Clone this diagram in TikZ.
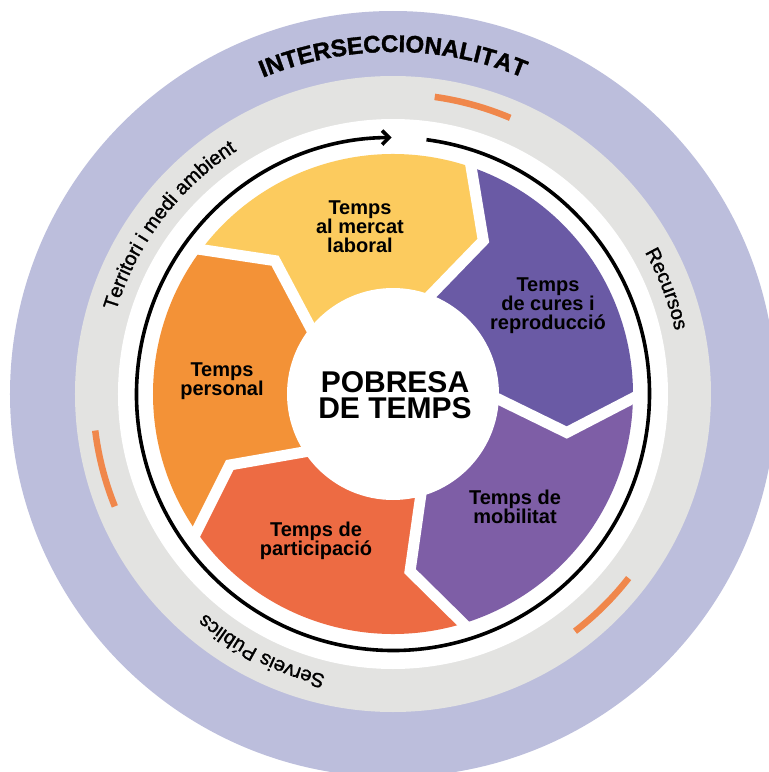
\documentclass[tikz,border=0pt]{standalone}
\usepackage{fontspec}
\setmainfont{Liberation Sans}
\usepackage{tikz}
\usetikzlibrary{arrows.meta,decorations.text}
\definecolor{lavanda}{RGB}{188,190,220}
\definecolor{gris}{RGB}{227,227,225}
\definecolor{groc}{RGB}{252,203,94}
\definecolor{taronja}{RGB}{243,146,55}
\definecolor{vermell}{RGB}{237,107,67}
\definecolor{lilafosc}{RGB}{106,90,165}
\definecolor{lila}{RGB}{126,94,166}
\definecolor{accent}{RGB}{240,135,75}
\newcommand\ringfont{\fontsize{20}{20}\selectfont\addfontfeature{FakeBold=1.3}}
\newcommand\titlefont{\bfseries\fontsize{24}{24}\selectfont\addfontfeature{FakeBold=1.5}}

\begin{document}
\begin{tikzpicture}[x=1pt,y=1pt,>={Straight Barb[length=7pt,width=14pt]},
  ringtext/.style={decorate,decoration={text along path,text align=center,text={#1}}}]
\tikzstyle{seglabel}=[align=center,font=\bfseries\fontsize{20}{19}\selectfont,text=black]
\tikzstyle{accentarc}=[draw=accent,line width=6.5pt]
\tikzstyle{gap}=[draw=white,line width=11pt]
\clip (-393,-378) rectangle (376,394);
\fill[lavanda] (0,0) circle[radius=383];
\fill[gris] (0,0) circle[radius=318];
\fill[white] (0,0) circle[radius=275];
\draw[accentarc] (82:300) arc[start angle=82,end angle=67,radius=300];
\draw[accentarc] (187:300) arc[start angle=187,end angle=202,radius=300];
\draw[accentarc] (-38:299) arc[start angle=-38,end angle=-52.5,radius=299];
\draw[line width=3.6pt,->] (82.5:256.5) arc[start angle=82.5,end angle=-269.7,radius=256.5];
\foreach \a/\c in {216/taronja,144/groc,72/lilafosc,0/lila,-72/vermell}
  \fill[\c] (\a:240) arc[start angle=\a,end angle=\a-72,radius=240]
    -- ({\a-84.5}:178) -- ({\a-72}:100) arc[start angle=\a-72,end angle=\a,radius=100]
    -- ({\a-12.5}:178) -- cycle;
\foreach \a in {144,72,0,-72,-144}
  \draw[gap] (\a:248) -- ({\a-12.5}:178) -- (\a:95);
\fill[white] (0,0) circle[radius=106];
\path[ringtext={|\titlefont|INTERSECCIONALITAT}] (150:342) arc[start angle=150,end angle=30,radius=342];
\path[ringtext={|\ringfont|Territori i medi ambient}] (183:289) arc[start angle=183,end angle=103,radius=289];
\path[ringtext={|\ringfont|Recursos}] (51:289) arc[start angle=51,end angle=-9,radius=289];
\path[ringtext={|\ringfont|Serveis Públics}] (283:289) arc[start angle=283,end angle=203,radius=289];
\node[seglabel] (mercat) at (-33,167) {Temps\\al mercat\\laboral};
\node[seglabel] (cures) at (155,88) {Temps\\de cures i\\reproducció};
\node[seglabel] (personal) at (-171,13) {Temps\\personal};
\node[seglabel] (mobilitat) at (122,-113) {Temps de\\mobilitat};
\node[seglabel] (participacio) at (-77,-147) {Temps de\\participació};
\node[align=center,font=\bfseries\fontsize{30}{26}\selectfont] (pobresa) at (2,-1) {POBRESA\\DE TEMPS};
\end{tikzpicture}
\end{document}
